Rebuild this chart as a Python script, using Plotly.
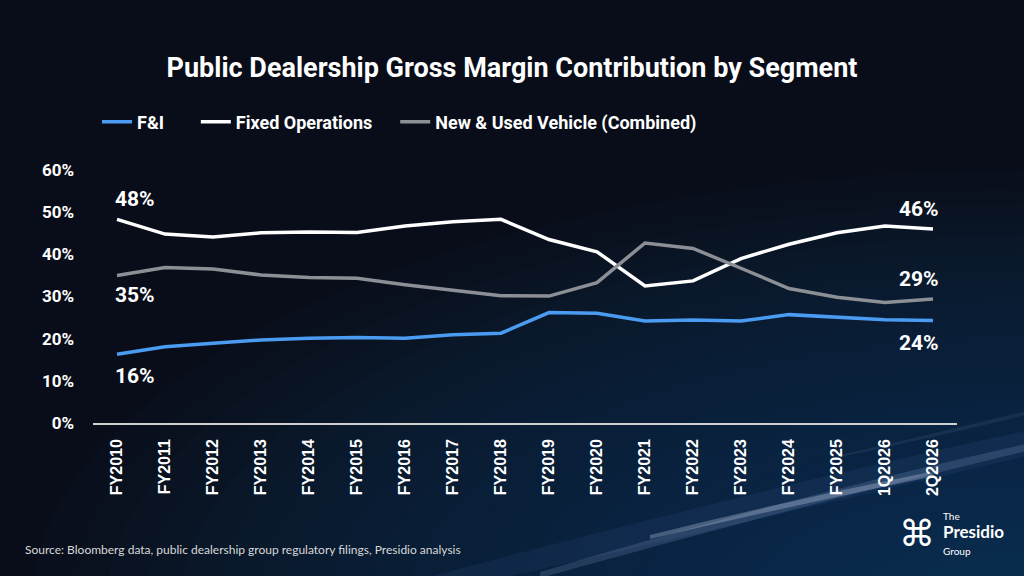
import plotly.graph_objects as go

periods = ["FY2010", "FY2011", "FY2012", "FY2013", "FY2014", "FY2015", "FY2016",
           "FY2017", "FY2018", "FY2019", "FY2020", "FY2021", "FY2022", "FY2023",
           "FY2024", "FY2025", "1Q2026", "2Q2026"]

fni = [16.3, 18.1, 18.9, 19.7, 20.1, 20.3, 20.1, 20.9, 21.3, 26.2, 26.0, 24.2,
       24.4, 24.2, 25.7, 25.2, 24.5, 24.3]
fixed_ops = [48.3, 44.8, 44.1, 45.1, 45.3, 45.2, 46.7, 47.7, 48.3, 43.5, 40.6, 32.5,
             33.7, 39.0, 42.4, 45.1, 46.7, 46.0]
new_used = [35.0, 36.9, 36.5, 35.1, 34.5, 34.3, 32.8, 31.4, 30.2, 30.1, 33.3, 42.7,
            41.4, 36.7, 31.9, 29.8, 28.6, 29.4]

y_ticks = [0, 10, 20, 30, 40, 50, 60]

W, H = 1024, 576
L, R, T, B = 93, 67, 170, 153


def px(x, y):
    # pixel position on the slide -> paper coords of the plot area
    return (x - L) / (W - L - R), (H - B - y) / (H - T - B)


fig = go.Figure()

# legend names padded so the entries spread out like the slide
series = [
    ("F&I" + "&nbsp;" * 6, fni, "#4a9cf2"),
    ("Fixed Operations" + "&nbsp;" * 4, fixed_ops, "#ffffff"),
    ("New & Used Vehicle (Combined)", new_used, "#8c9096"),
]
for name, vals, col in series:
    fig.add_trace(go.Scatter(x=periods, y=vals, name=name, mode="lines",
                             line=dict(color=col, width=3.5)))

# end labels
lab_font = dict(family="Roboto", size=21, color="white", weight="bold")
for vals, s0, s1 in [(fixed_ops, 20, 20), (new_used, -20, 20), (fni, -22, -22)]:
    fig.add_annotation(x=periods[0], y=vals[0], text=f"{round(vals[0])}%",
                       showarrow=False, xanchor="left", xshift=-4, yshift=s0,
                       font=lab_font)
    fig.add_annotation(x=periods[-1], y=vals[-1], text=f"{round(vals[-1])}%",
                       showarrow=False, xanchor="right", xshift=8, yshift=s1,
                       font=lab_font)

# background glow bottom right
shapes = []
for r in range(800, 40, -30):
    cx, cy = 1030, 610
    x0, y0 = px(cx - r * 1.25, cy - r * 0.55)
    x1, y1 = px(cx + r * 1.25, cy + r * 0.55)
    shapes.append(dict(type="circle", xref="paper", yref="paper", layer="below",
                       x0=x0, y0=y0, x1=x1, y1=y1, line_width=0,
                       fillcolor="rgba(28,58,115,0.045)"))


# light streak
def streak(pts_top, pts_bot, col):
    a = [px(*p) for p in pts_top]
    b = [px(*p) for p in pts_bot]
    path = f"M {a[0][0]},{a[0][1]} Q {a[1][0]},{a[1][1]} {a[2][0]},{a[2][1]} "
    path += f"L {b[2][0]},{b[2][1]} Q {b[1][0]},{b[1][1]} {b[0][0]},{b[0][1]} Z"
    return dict(type="path", xref="paper", yref="paper", layer="below", path=path,
                line_width=0, fillcolor=col)


shapes.append(streak([(380, 590), (760, 488), (1030, 430)],
                     [(380, 606), (780, 515), (1030, 455)], "rgba(80,120,190,0.10)"))
shapes.append(streak([(540, 572), (800, 494), (1030, 443)],
                     [(540, 578), (810, 503), (1030, 450)], "rgba(160,185,230,0.18)"))
shapes.append(streak([(650, 535), (790, 500), (930, 472)],
                     [(650, 539), (795, 505), (935, 476)], "rgba(215,225,245,0.28)"))
shapes.append(streak([(840, 455), (940, 432), (1030, 410)],
                     [(840, 457), (945, 435), (1030, 414)], "rgba(140,170,220,0.10)"))
fig.update_layout(shapes=shapes)

# source + logo
fig.add_annotation(xref="paper", yref="paper", x=px(23, 0)[0], y=px(0, 549)[1],
                   xanchor="left", yanchor="middle", showarrow=False,
                   text="Source: Bloomberg data, public dealership group regulatory filings, Presidio analysis",
                   font=dict(family="Lato", size=12, color="#d8d8d8"))
fig.add_annotation(xref="paper", yref="paper", x=px(917, 0)[0], y=px(0, 533)[1],
                   xanchor="center", yanchor="middle", borderpad=0,
                   showarrow=False, text="⌘",
                   font=dict(family="DejaVu Sans", size=36, color="white"))
fig.add_annotation(xref="paper", yref="paper", x=px(942, 0)[0], y=px(0, 533)[1],
                   xanchor="left", yanchor="middle", showarrow=False, align="left",
                   borderpad=0,
                   text="<span style='font-size:10px'>The</span><br>"
                        "<b><span style='font-size:17px'>Presidio</span></b><br>"
                        "<span style='font-size:10px'>Group</span>",
                   font=dict(family="Lato", size=13.5, color="white"))

fig.update_layout(
    width=W, height=H,
    margin=dict(l=L, r=R, t=T, b=B),
    paper_bgcolor="#090d19",
    plot_bgcolor="rgba(0,0,0,0)",
    title=dict(text="<b>Public Dealership Gross Margin Contribution by Segment</b>",
               x=0.5, xref="container", y=1 - 68 / H, yanchor="middle",
               font=dict(family="Roboto", size=27, color="white")),
    legend=dict(orientation="h", x=px(97, 0)[0], y=px(0, 122)[1], xanchor="left",
                yanchor="middle", bgcolor="rgba(0,0,0,0)",
                font=dict(family="Roboto", size=18, color="white", weight="bold"),
                traceorder="normal"),
    xaxis=dict(type="category", range=[-0.5, len(periods) - 0.5], showgrid=False,
               showline=True, linecolor="#d0d0d0", linewidth=1.5, ticks="",
               tickangle=-90, ticklabelstandoff=8,
               tickfont=dict(family="Liberation Sans", size=16, color="white",
                             weight="bold")),
    yaxis=dict(range=[0, 60], tickvals=y_ticks, ticktext=[f"{v}%" for v in y_ticks],
               showgrid=False, zeroline=False, showline=False, ticks="",
               ticklabelstandoff=18,
               tickfont=dict(family="Roboto", size=17, color="white", weight="bold")),
    font=dict(family="Roboto", color="white"),
)

fig.write_html("out.html", config={"displayModeBar": False},
               post_script="document.body.style.margin='0';")
